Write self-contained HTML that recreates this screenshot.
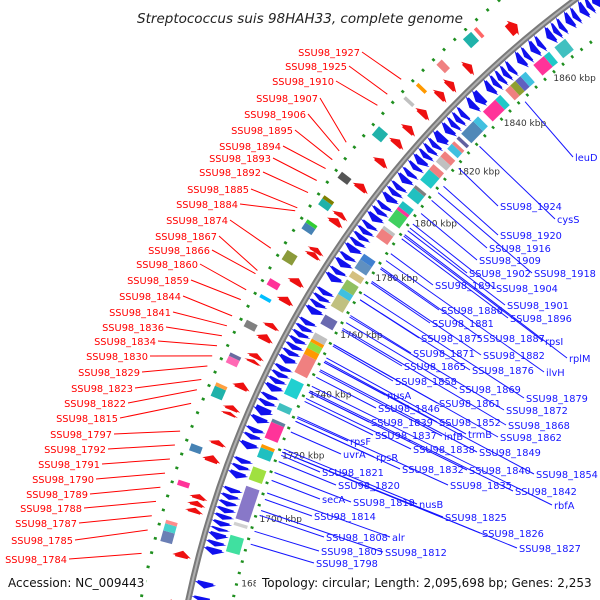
<!DOCTYPE html>
<html><head><meta charset="utf-8"><style>
html,body{margin:0;padding:0;background:#fff;overflow:hidden;width:600px;height:600px;}
svg{display:block;}
text{font-family:"DejaVu Sans","Liberation Sans",sans-serif;}
</style></head><body>
<svg id="map" width="600" height="600" viewBox="0 0 600 600" xmlns="http://www.w3.org/2000/svg">
<rect width="600" height="600" fill="#fff"/>
<g id="feat"></g>
<g id="lines"></g>
<g id="labels"></g>
<rect x="130" y="4" width="338" height="24" fill="#fff"/>
<text x="300" y="23" text-anchor="middle" font-size="13.5" font-style="italic" fill="#222">Streptococcus suis 98HAH33, complete genome</text>
<rect x="4" y="572" width="142" height="22" fill="#fff"/>
<rect x="256" y="570" width="344" height="30" fill="#fff"/>
<text x="8" y="587" font-size="12" fill="#111">Accession: NC_009443</text>
<text x="262" y="587" font-size="12" fill="#111">Topology: circular; Length: 2,095,698 bp; Genes: 2,253</text>
</svg>
<script>
// ---- data ----
const tickKbp = [1680,1700,1720,1740,1760,1780,1800,1820,1840,1860];
const reverseGenes = [[1668,1670],[1672,1673.5],[1676,1678],[1686,1688],[1688.5,1690],[1690.5,1692.5],[1693,1694],[1694.5,1696],[1696.5,1698],[1698.5,1700],[1700.5,1702],[1702.5,1704],[1704.5,1706],[1709,1711],[1711.5,1713],[1713.5,1715],[1718,1720],[1721,1722.5],[1723,1724.5],[1726,1728],[1728.5,1731],[1731.5,1733],[1733.5,1735],[1736,1738],[1738.5,1740],[1740.5,1742],[1742.5,1744],[1745,1747],[1747.5,1749],[1749.5,1751],[1751.5,1753],[1753.5,1755],[1755.5,1757],[1757.5,1759],[1761,1763],[1763.5,1765],[1765.5,1767],[1767.5,1769],[1772,1774],[1774.5,1776],[1777,1779],[1779.5,1781],[1782,1784],[1784.5,1786],[1786.5,1788],[1788.5,1790],[1790.5,1792],[1793,1795],[1795.5,1797],[1797.5,1799],[1800,1802],[1802.5,1804],[1804.5,1806],[1807,1809],[1809.5,1811],[1812,1813.5],[1814,1816],[1816.5,1818],[1818.5,1820],[1820.5,1822],[1822.5,1825],[1826,1828],[1828.5,1830],[1830.5,1832],[1832.5,1834],[1836,1838],[1838.5,1841],[1843,1845],[1845.5,1847],[1847.5,1849],[1849.5,1851],[1851.5,1853],[1855,1857],[1857.5,1859],[1860,1862],[1862.5,1864],[1866,1868],[1868.5,1870],[1870.5,1872],[1873,1875],[1875.5,1877],[1878,1880],[1880.5,1882],[1882.5,1885]];
const forwardGenes = [[1669,1671],[1683,1685],[1696,1697.5],[1698,1699.5],[1700,1701.5],[1711,1713],[1716,1717.5],[1725,1726],[1726.5,1728],[1733,1735],[1741,1742],[1742.5,1744],[1748,1750],[1752,1753.5],[1760,1762],[1766,1768],[1775,1776.5],[1776.5,1778],[1786,1788],[1788.5,1790],[1798,1800],[1807,1809],[1814,1816],[1819,1821],[1825,1827],[1832,1834],[1836,1838],[1843,1845],[1859,1862]];
const outerBoxes = [[1686,1689,'#6a7fb5'],[1689,1691,'#48d1cc'],[1691,1692,'#ff8c8c'],[1702,1703.5,'#ff3399'],[1712,1714,'#4682b4'],[1728,1731,'#20b2aa'],[1731,1732,'#ffa040'],[1738,1740,'#ff69b4'],[1740,1741,'#6a6aa0'],[1749,1751,'#808080'],[1758,1759,'#00bfff'],[1762,1764,'#ff3399'],[1770,1773,'#8b9a3a'],[1780,1782,'#4682b4'],[1782,1783,'#32cd32'],[1788,1790,'#20b2aa'],[1790,1791,'#808000'],[1797,1799,'#555555'],[1812,1815,'#20b2aa'],[1825,1826,'#c0c0c0'],[1830,1831,'#ff9900'],[1838,1840,'#f08080'],[1848,1851,'#20b2aa'],[1852,1853,'#ff6666']];
const innerBoxes = [[1666,1668,'#c0c0c0'],[1672,1673,'#808080'],[1688,1693,'#40e0a0'],[1696,1697,'#d0d0d0'],[1698,1708,'#8878c8'],[1710,1714,'#a0e040'],[1717,1720,'#20c0c0'],[1720,1721,'#ff9900'],[1723,1728,'#ff3399'],[1728,1729,'#6080a0'],[1732,1734,'#40c0c0'],[1737,1742,'#20d0d0'],[1744,1750,'#f08080'],[1750,1752,'#ff9900'],[1752,1754,'#90e040'],[1754,1755,'#ff9900'],[1755,1757,'#c0c0c0'],[1760,1763,'#6a6ab0'],[1766,1770,'#c0c080'],[1770,1772,'#40c0e0'],[1772,1775,'#90c060'],[1776,1778,'#d4c080'],[1779,1782,'#6090c0'],[1782,1784,'#4080d0'],[1790,1793,'#f08080'],[1793,1794,'#c0c0c0'],[1796,1800,'#40d060'],[1800,1801,'#ff3399'],[1801,1803,'#20c0c0'],[1805,1808,'#20c0c0'],[1808,1809,'#808080'],[1811,1815,'#20c8c8'],[1815,1817,'#f08080'],[1818,1820,'#c0c0c0'],[1820,1822,'#f08080'],[1823,1825,'#40c0e0'],[1825,1826,'#f08080'],[1827,1828,'#6060a0'],[1829,1834,'#5088b8'],[1834,1836,'#40c0e0'],[1838,1843,'#ff3399'],[1843,1845,'#20c8c8'],[1847,1849,'#f08080'],[1849,1851,'#90a030'],[1851,1853,'#6060c0'],[1853,1855,'#40c0e0'],[1858,1862,'#ff3399'],[1862,1864,'#20c8c8'],[1866,1870,'#40c0c0']];
const outerDots = [1666,1670,1674,1678,1682,1686,1690,1694,1698,1702,1706,1710,1714,1718,1722,1726,1730,1734,1738,1742,1746,1750,1754,1758,1762,1766,1770,1774,1778,1782,1786,1790,1794,1798,1802,1806,1810,1814,1818,1822,1826,1830,1834,1838,1842,1846,1850,1854,1858,1862,1866,1870,1874,1878];
const innerDots = [1665,1668.5,1672,1675.5,1679,1682.5,1686,1689.5,1693,1696.5,1700,1703.5,1707,1710.5,1714,1717.5,1721,1724.5,1728,1731.5,1735,1738.5,1742,1745.5,1749,1752.5,1756,1759.5,1763,1766.5,1770,1773.5,1777,1780.5,1784,1787.5,1791,1794.5,1798,1801.5,1805,1808.5,1812,1815.5,1819,1822.5,1826,1829.5,1833,1836.5,1840,1843.5,1847,1850.5,1854,1857.5,1861,1864.5,1868,1871.5,1875];
const redNames = ['SSU98_1927','SSU98_1925','SSU98_1910','SSU98_1907','SSU98_1906','SSU98_1895','SSU98_1894','SSU98_1893','SSU98_1892','SSU98_1885','SSU98_1884','SSU98_1874','SSU98_1867','SSU98_1866','SSU98_1860','SSU98_1859','SSU98_1844','SSU98_1841','SSU98_1836','SSU98_1834','SSU98_1830','SSU98_1829','SSU98_1823','SSU98_1822','SSU98_1815','SSU98_1797','SSU98_1792','SSU98_1791','SSU98_1790','SSU98_1789','SSU98_1788','SSU98_1787','SSU98_1785','SSU98_1784'];
const redX = [360,347,334,318,306,293,281,271,261,249,238,228,217,210,198,189,181,171,164,156,148,140,133,126,118,112,106,100,94,88,82,77,73,67];
const redY = [52,66,81,98,114,130,146,158,172,189,204,220,236,250,264,280,296,312,327,341,356,372,388,403,418,434,449,464,479,494,508,523,540,559];
const redKbp = [1828.5,1823,1819,1806,1803,1800,1797,1793,1789,1784,1783,1771,1764,1763,1758,1755,1750,1747,1744,1741,1738,1735,1731,1728,1724,1716,1712,1708,1704,1700,1696,1692,1688,1681.5];
const blueNames = ['leuD','SSU98_1924','cysS','SSU98_1920','SSU98_1916','SSU98_1909','SSU98_1902','SSU98_1918','SSU98_1891','SSU98_1904','SSU98_1901','SSU98_1886','SSU98_1896','SSU98_1881','SSU98_1887','rpsI','SSU98_1875','SSU98_1882','rplM','SSU98_1871','SSU98_1865','SSU98_1876','ilvH','SSU98_1858','SSU98_1869','SSU98_1879','nusA','SSU98_1861','SSU98_1872','SSU98_1846','SSU98_1839','SSU98_1852','SSU98_1868','SSU98_1837','infB','trmB','SSU98_1862','rpsF','SSU98_1838','SSU98_1849','uvrA','rpsR','SSU98_1832','SSU98_1840','SSU98_1854','SSU98_1821','SSU98_1835','SSU98_1842','SSU98_1820','secA','SSU98_1819','nusB','rbfA','SSU98_1814','SSU98_1825','SSU98_1826','SSU98_1808','alr','SSU98_1827','SSU98_1803','SSU98_1812','SSU98_1798'];
const blueX = [575,500,557,500,489,479,469,534,435,496,507,441,510,432,483,545,421,483,569,413,404,472,546,395,459,526,387,439,506,378,371,439,508,375,444,468,500,350,413,479,343,376,402,469,536,322,450,515,338,322,353,419,554,314,445,482,326,392,519,321,385,316];
const blueY = [157,206,219,235,248,260,273,273,285,288,305,310,318,323,338,341,338,355,358,353,366,370,372,381,389,398,395,403,410,408,422,422,425,435,436,434,437,441,449,452,454,457,469,470,474,472,485,491,485,499,502,504,505,516,517,533,537,537,548,551,552,563];
const blueKbp = [1849,1821,1830,1814,1808.5,1803.5,1798,1811.5,1788.5,1799.5,1797,1783,1794,1778,1783.5,1795,1772,1778.5,1795.5,1766.5,1761.5,1772,1786,1756,1764,1774,1750.5,1756.5,1766,1745.5,1740.5,1751,1762,1737.5,1747.5,1752,1756.5,1732,1738.5,1748,1727.5,1731,1731,1740.5,1750.5,1720,1732.5,1741,1718,1712,1714.5,1722,1742.5,1706,1721,1721,1701,1708,1721,1696,1702.5,1692];

// ---- geometry ----
const CX=1175, CY=811, R=1009;
function ang(kbp){ return (201.7 + (kbp-1720)*0.2) * Math.PI/180; }
function pt(kbp, r){ const a=ang(kbp); return [CX + r*Math.cos(a), CY + r*Math.sin(a)]; }
const NS='http://www.w3.org/2000/svg';
const feat=document.getElementById('feat'), linesG=document.getElementById('lines'), labG=document.getElementById('labels');
function mk(tag, attrs, parent){ const e=document.createElementNS(NS,tag); for(const k in attrs) e.setAttribute(k, attrs[k]); parent.appendChild(e); return e; }
function P(p){ return p[0].toFixed(1)+','+p[1].toFixed(1); }

const b0=pt(1650,R), b1=pt(1900,R);
const bb=mk('path',{d:`M${P(b0)} A${R} ${R} 0 0 1 ${P(b1)}`,fill:'none',stroke:'#7a7a7a','stroke-width':6},feat);


const bb2=mk('path',{d:`M${P(b0)} A${R} ${R} 0 0 1 ${P(b1)}`,fill:'none',stroke:'#b0b0b0','stroke-width':2},feat);



function box(k1,k2,r1,r2,color,name){
  const p=[pt(k1,r1),pt(k2,r1),pt(k2,r2),pt(k1,r2)];
  const e=mk('polygon',{points:p.map(P).join(' '),fill:color},feat);
  
  
}
function arrow(k1,k2,r1,r2,dir,color,name){
  const tip=Math.min(1.6,(k2-k1)*0.8), rm=(r1+r2)/2, s=(r2>r1?1:-1)*3;
  let p;
  if(dir>0){ p=[pt(k1,r1),pt(k2-tip,r1),pt(k2-tip,r1-s),pt(k2,rm),pt(k2-tip,r2+s),pt(k2-tip,r2),pt(k1,r2)]; }
  else { p=[pt(k2,r1),pt(k1+tip,r1),pt(k1+tip,r1-s),pt(k1,rm),pt(k1+tip,r2+s),pt(k1+tip,r2),pt(k2,r2)]; }
  const e=mk('polygon',{points:p.map(P).join(' '),fill:color},feat);
  
  
}
reverseGenes.forEach(g=>arrow(g[0],g[1],R-5,R-21,-1,'#1010ee','reverse-gene'));
forwardGenes.forEach(g=>arrow(g[0],g[1],R+10,R+23,1,'#ee1010','forward-gene'));
outerBoxes.forEach(b=>box(b[0],b[1],R+29,R+41,b[2],'outer-feature'));
innerBoxes.forEach(b=>box(b[0],b[1],R-25,R-39,b[2],'inner-feature'));
outerDots.forEach(k=>box(k,k+0.7,R+45,R+48,'#1f8f1f','outer-dot'));
innerDots.forEach(k=>box(k,k+0.7,R-42,R-45,'#1f8f1f','inner-dot'));

tickKbp.forEach(k=>{
  const p=pt(k,R-48);
  const t=mk('text',{x:p[0].toFixed(1),y:(p[1]+3).toFixed(1),'font-size':9,fill:'#333'},feat);
  t.textContent=k+' kbp';
  
  
});

redNames.forEach((n,i)=>{
  const p=pt(redKbp[i],R+56);
  const l=mk('line',{x1:(redX[i]+2),y1:redY[i],x2:p[0].toFixed(1),y2:p[1].toFixed(1),stroke:'#ff0000','stroke-width':1},linesG);
  
  
  const t=mk('text',{x:redX[i],y:redY[i]+4,'text-anchor':'end','font-size':9.8,fill:'#ff0000'},labG);
  t.textContent=n;
  
  
});
blueNames.forEach((n,i)=>{
  const p=pt(blueKbp[i],R-47);
  const l=mk('line',{x1:p[0].toFixed(1),y1:p[1].toFixed(1),x2:(blueX[i]-2),y2:blueY[i],stroke:'#1515ff','stroke-width':1},linesG);
  
  
  const t=mk('text',{x:blueX[i],y:blueY[i]+4,'font-size':9.8,fill:'#1515ff'},labG);
  t.textContent=n;
  
  
});
</script>
</body></html>
